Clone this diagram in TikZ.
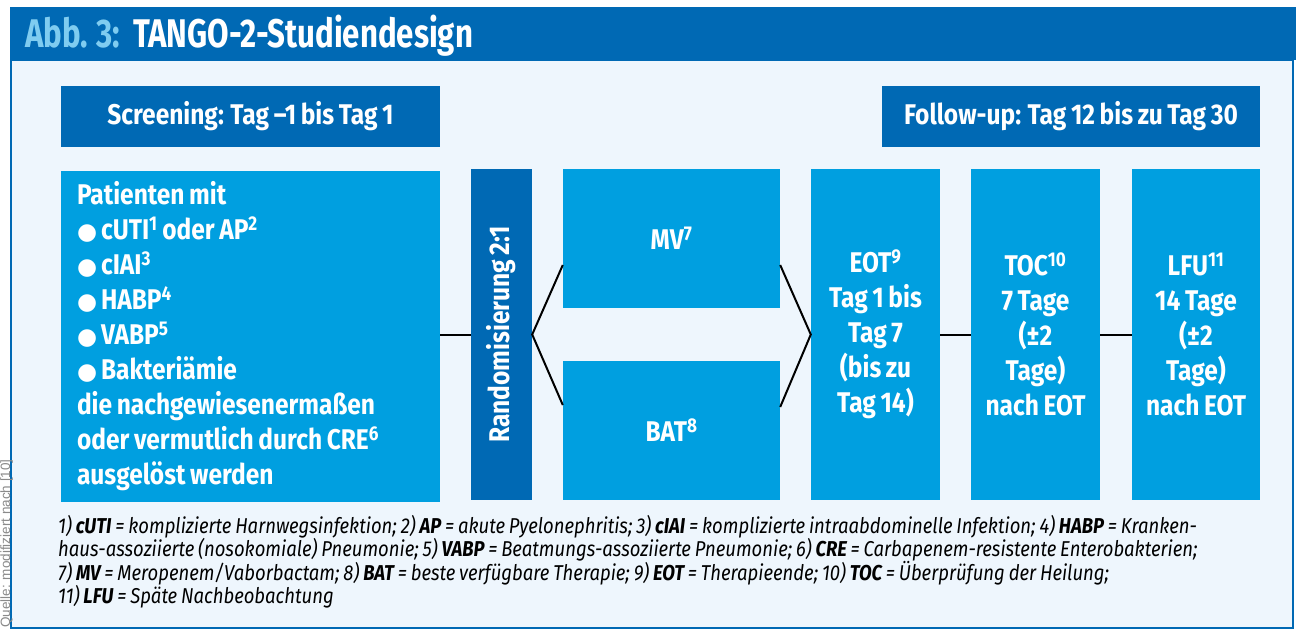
\documentclass[tikz,border=0pt]{standalone}
\usepackage{fontspec}
\setmainfont{Fira Sans}[FakeStretch=0.86, WordSpace=0.8]
\newfontfamily\titlefont{Fira Sans}[FakeStretch=0.78, WordSpace=0.8]
\newfontfamily\bulfont{DejaVu Sans}
\newfontfamily\srcfont{Liberation Sans}
\newcommand\myup[1]{\textsuperscript{#1}}
\newcommand\bul{{\bulfont\fontsize{23}{35}\selectfont ●}\hspace{4pt}}
\definecolor{darkblue}{HTML}{0069B4}
\definecolor{boxblue}{HTML}{009FE0}
\definecolor{bgblue}{HTML}{EEF6FD}
\definecolor{abbblue}{HTML}{7FCCF0}
\definecolor{srcgray}{HTML}{8A8A8A}
\tikzset{
  headbox/.style={fill=darkblue, text=white, inner sep=0pt, font=\bfseries\fontsize{28.5}{35}\selectfont},
  bluebox/.style={fill=boxblue, text=white, inner sep=0pt, font=\bfseries\fontsize{28.5}{35}\selectfont, align=center},
  randbox/.style={fill=darkblue, inner sep=0pt},
  conn/.style={draw=black, line width=2pt},
}
\begin{document}
\begin{tikzpicture}[x=1pt,y=-1pt]
\useasboundingbox (0,0) rectangle (1296,630);
\fill[white] (0,0) rectangle (1296,630);
% frame and header
\draw[fill=bgblue, draw=darkblue, line width=2pt] (11,60) rectangle (1293,628);
\fill[darkblue] (10,7) rectangle (1296,60);
\node[anchor=base west, inner sep=0pt, text=abbblue, font=\titlefont\bfseries\fontsize{40}{44}\selectfont] (abb) at (25,47) {Abb. 3:};
\node[anchor=base west, inner sep=0pt, text=white, font=\titlefont\bfseries\fontsize{40}{44}\selectfont] (title) at (133,47) {TANGO-2-Studiendesign};
% source
\node[rotate=90, anchor=base west, inner sep=0pt, text=srcgray, font=\srcfont\fontsize{13.5}{16}\selectfont] (src) at (10,628) {Quelle: modifiziert nach [10]};
% phase headers
\node[headbox, minimum width=379pt, minimum height=61pt] (screen) at (250.5,116.5) {Screening: Tag –1 bis Tag 1};
\node[headbox, minimum width=378pt, minimum height=61pt] (follow) at (1071,116.5) {Follow-up: Tag 12 bis zu Tag 30};
% patients
\node[bluebox, minimum width=379pt, minimum height=331pt, text width=347pt, align=flush left] (pat) at (250.5,336) {Patienten mit\\
\bul cUTI\myup{1} oder AP\myup{2}\\
\bul cIAI\myup{3}\\
\bul HABP\myup{4}\\
\bul VABP\myup{5}\\
\bul Bakteriämie\\
die nachgewiesenermaßen\\
oder vermutlich durch CRE\myup{6}\\
ausgelöst werden};
% randomisation
\node[randbox, minimum width=61pt, minimum height=331pt] (rand) at (501.5,334.5) {};
\node[rotate=90, text=white, inner sep=0pt, font=\bfseries\fontsize{28.5}{35}\selectfont] (randtxt) at (rand.center) {Randomisierung 2:1};
% arms
\node[bluebox, minimum width=217pt, minimum height=139pt] (mv) at (671.5,238.5) {MV\myup{7}};
\node[bluebox, minimum width=217pt, minimum height=139pt] (bat) at (671.5,430.5) {BAT\myup{8}};
% visits
\node[bluebox, minimum width=129pt, minimum height=331pt] (eot) at (875.5,334.5) {EOT\myup{9}\\Tag 1 bis\\Tag 7\\(bis zu\\Tag 14)};
\node[bluebox, minimum width=129pt, minimum height=331pt] (toc) at (1035.5,334.5) {TOC\myup{10}\\7 Tage\\(±2\\Tage)\\nach EOT};
\node[bluebox, minimum width=128pt, minimum height=331pt] (lfu) at (1196,334.5) {LFU\myup{11}\\14 Tage\\(±2\\Tage)\\nach EOT};
% connectors
\coordinate (mvin) at ([yshift=-26.5pt]mv.west);
\coordinate (batin) at ([yshift=25.5pt]bat.west);
\coordinate (mvout) at ([yshift=-26.5pt]mv.east);
\coordinate (batout) at ([yshift=23.5pt]bat.east);
\draw[conn] (pat.east |- rand.west) -- (rand.west);
\draw[conn] (mvin) -- (rand.east) -- (batin);
\draw[conn] (mvout) -- (eot.west) -- (batout);
\draw[conn] (eot.east) -- (toc.west);
\draw[conn] (toc.east) -- (lfu.west);
% footnotes
\node[anchor=base west, inner sep=0pt, text width=1230pt, align=flush left, text=black, font=\itshape\fontsize{21.5}{23}\selectfont] (notes) at (58,533) {1) \textbf{cUTI} = komplizierte Harnwegsinfektion; 2) \textbf{AP} = akute Pyelonephritis; 3) \textbf{cIAI} = komplizierte intraabdominelle Infektion; 4) \textbf{HABP} = Kranken-\\
haus-assoziierte (nosokomiale) Pneumonie; 5) \textbf{VABP} = Beatmungs-assoziierte Pneumonie; 6) \textbf{CRE} = Carbapenem-resistente Enterobakterien;\\
7) \textbf{MV} = Meropenem/Vaborbactam; 8) \textbf{BAT} = beste verfügbare Therapie; 9) \textbf{EOT} = Therapieende; 10) \textbf{TOC} = Überprüfung der Heilung;\\
11) \textbf{LFU} = Späte Nachbeobachtung};
\end{tikzpicture}
\end{document}
